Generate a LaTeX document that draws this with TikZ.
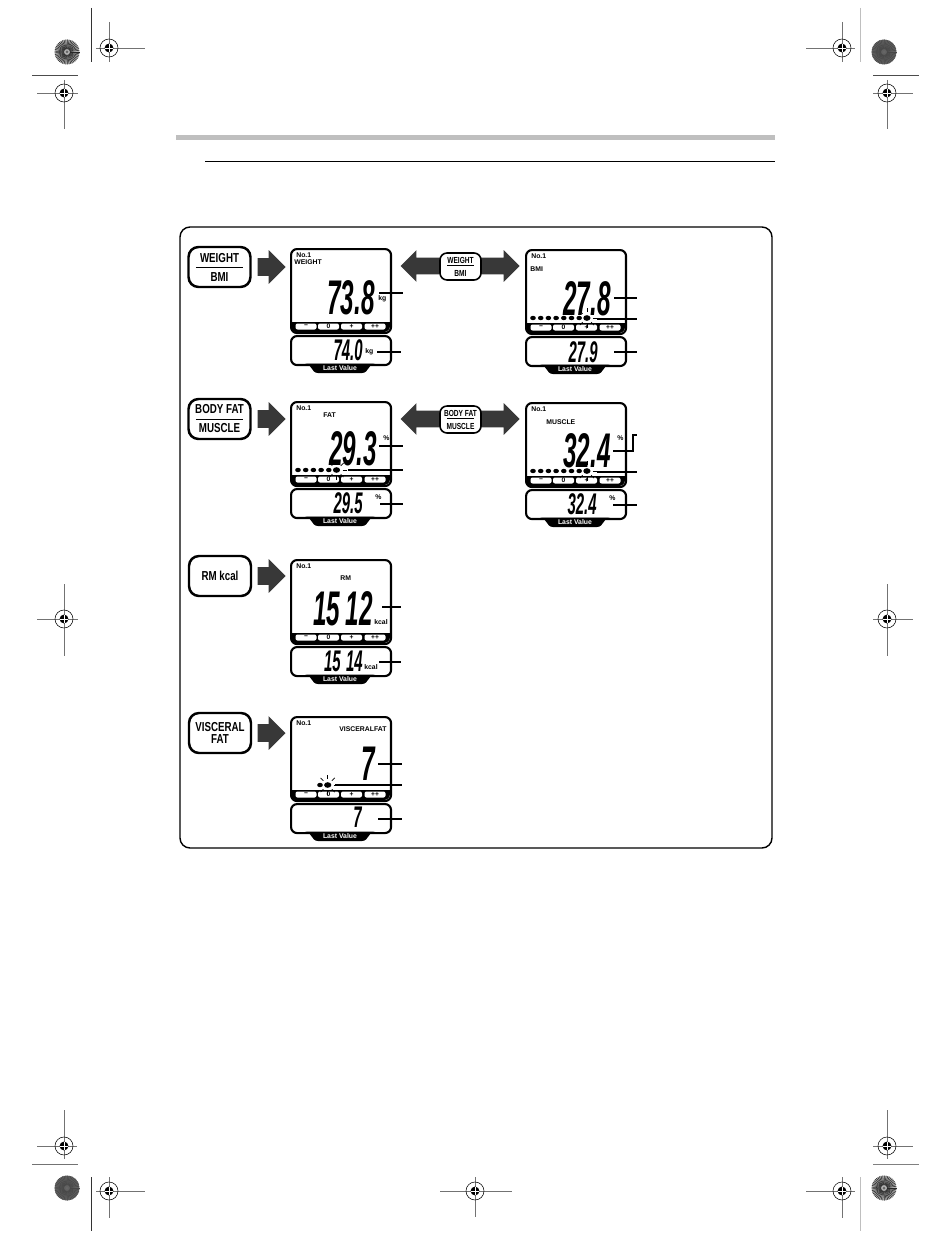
\documentclass[tikz,border=0pt]{standalone}
\usepackage{fontspec}
\setmainfont{Liberation Sans}
\newfontfamily\segfont[FakeStretch=0.5]{Liberation Sans}
\newfontfamily\capfont[FakeStretch=0.75]{Liberation Sans}
\usetikzlibrary{positioning,shapes.arrows}

\begin{document}
\begin{tikzpicture}[x=0.02cm,y=-0.02cm,
  panel/.style={draw,line width=1.2pt,rounded corners=0.12cm,minimum width=2cm,minimum height=1.68cm,inner sep=0pt,anchor=north west},
  lastbox/.style={draw,line width=1.2pt,rounded corners=0.12cm,minimum width=2cm,minimum height=0.58cm,inner sep=0pt,anchor=north west},
  keycap/.style={fill=white,rounded corners=0.04cm,minimum width=0.42cm,minimum height=0.12cm,inner sep=0pt,font=\bfseries\fontsize{3.8}{3.8}\selectfont},
  tag/.style={inner sep=0pt,anchor=west,font=\bfseries\fontsize{3.9}{4}\selectfont},
  bigdigits/.style={inner sep=0pt,anchor=base east,font=\segfont\bfseries\itshape\fontsize{27.7}{28}\selectfont},
  lastdigits/.style={inner sep=0pt,anchor=base east,font=\segfont\bfseries\itshape\fontsize{17}{17}\selectfont},
  bigbutton/.style={draw,line width=1.4pt,rounded corners=0.2cm,minimum width=1.24cm,minimum height=0.8cm,inner sep=0pt,align=center,font=\capfont\bfseries\fontsize{7.4}{5.4}\selectfont},
  smallbutton/.style={draw,fill=white,line width=0.9pt,rounded corners=0.14cm,minimum width=0.82cm,minimum height=0.54cm,inner sep=0pt,align=center,font=\capfont\bfseries\fontsize{5}{3.7}\selectfont},
  blockarrow/.style={single arrow,fill=black!78,inner xsep=0pt,inner ysep=0.17cm,minimum height=0.56cm,minimum width=0.66cm,single arrow head extend=0.16cm,single arrow head indent=0pt,anchor=tip},
  widearrow/.style={single arrow,fill=black!78,inner xsep=0pt,inner ysep=0.16cm,minimum height=0.8cm,minimum width=0.62cm,single arrow head extend=0.15cm,single arrow head indent=0pt,anchor=tip},
  leader/.style={line width=0.6pt}]
  \useasboundingbox (0,0) rectangle (950,1240);
  % Trim lines
  \foreach \ax/\ay/\bx/\by/\tc in {91/8/91/62/black!80,32/75/78/75/black!70,91/1177/91/1231/black!80,32/1164/78/1164/black!55,860/8/860/62/black!25,873/75/919/75/black!70,860/1177/860/1231/black!25,873/1164/919/1164/black!50}
    \draw[\tc,line width=0.5pt] (\ax,\ay) -- (\bx,\by);
  % Registration targets
  \foreach \cx/\cy/\xa/\xb/\ya/\yb in {109/48/96/145/22/62,64/93/37/78/80/129,842/48/806/855/22/62,887/93/873/913/80/129,64/619/37/78/584/656,887/619/873/913/584/656,64/1146/37/77/1110/1159,109/1191/96/145/1177/1218,475/1191/440/512/1177/1217,842/1191/806/855/1177/1218,887/1146/873/913/1110/1159}{
    \draw[black!55,line width=0.45pt] (\xa,\cy) -- (\xb,\cy) (\cx,\ya) -- (\cx,\yb);
    \draw[line width=0.3pt] (\cx,\cy) circle (9);
    \fill (\cx,\cy) circle (4.4);
    \draw[white,line width=0.15pt] (\cx-4.4,\cy) -- (\cx+4.4,\cy) (\cx,\cy-4.4) -- (\cx,\cy+4.4);
  }
  % Colour wheels
  \foreach \wx/\wy/\wf/\wl in {67/52/black!30/black!85,884/1188/black!30/black!85,67/1188/black!62/black!72,884/52/black!62/black!72}{
    \fill[\wf] (\wx,\wy) circle (12.5);
    \foreach \a in {0,8,...,352} \draw[\wl,line width=0.3pt] (\wx,\wy) ++(\a:3) -- ++(\a:9.5);
    \fill[black!60] (\wx,\wy) circle (1.5);
  }
  % Header rules
  \fill[black!25] (176,135) rectangle (775,140);
  \draw[line width=0.5pt] (205,161) -- (775,161);
  % Outer frame
  \draw[line width=0.8pt,rounded corners=0.2cm] (180,227) rectangle (772,848);
  % Display panels
  \foreach \n/\x/\y in {w/290/248,b/525/249,f/290/401,m/525/402,r/290/559,v/290/716}{
    \node[panel] (\n main) at (\x,\y) {};
    \fill (\x,\y+74) -- (\x+100,\y+74) [rounded corners=0.12cm] -- (\x+100,\y+84) -- (\x,\y+84) [sharp corners] -- cycle;
    \foreach \k/\kx/\lab in {1/16/−,2/38.5/0,3/61.5/+,4/85/++}
      \node[keycap] (\n key\k) at (\x+\kx,\y+78.5) {\lab};
    \node[tag] (\n no) at (\x+6,\y+7) {No.1};
    \node[lastbox] (\n last) at (\x,\y+87) {};
    \fill (\x+15,\y+115.5) .. controls (\x+22,\y+115.5) and (\x+21,\y+125) .. (\x+28,\y+125) -- (\x+72,\y+125) .. controls (\x+79,\y+125) and (\x+78,\y+115.5) .. (\x+85,\y+115.5) -- cycle;
    \node[tag,anchor=center,white] (\n lastlabel) at (\x+50,\y+120.5) {Last Value};
  }
  % Readings
  \foreach \n/\bx/\by/\val in {w/375/314/73.8,b/611/315/27.8,f/377/465/29.3,m/611/467/32.4,r/373/625/15\kern3pt 12,v/375/780/7}
    \node[bigdigits] (\n value) at (\bx,\by) {\val};
  \foreach \n/\bx/\by/\val in {w/363/360/74.0,b/598/362/27.9,f/363/513/29.5,m/597/514/32.4,r/363/671/15\kern3pt 14,v/362/827/7}
    \node[lastdigits] (\n prev) at (\bx,\by) {\val};
  % Small labels
  \foreach \px/\py/\txt [count=\i] in {294/262/WEIGHT,378/299/kg,365/352/kg,530/269/BMI,323/415/FAT,383/438/\%,375/497/\%,546/422/MUSCLE,617/438/\%,609/498/\%,340/578/RM,374/622/kcal,364/667/kcal,339/729/VISCERALFAT}
    \node[tag] (tag\i) at (\px,\py) {\txt};
  % Level dots
  \foreach \dx/\dy/\cnt in {533/318/8,298/470/6,533/471/8,320/785/2}{
    \foreach \j in {1,...,\cnt} \fill (\dx+7.7*\j-7.7,\dy) ellipse (2.8 and 2.2);
    \fill (\dx+7.7*\cnt-7.7,\dy) ellipse (3.6 and 2.8);
    \foreach \a in {0,45,...,315} \draw[line width=0.4pt] (\dx+7.7*\cnt-7.7,\dy) ++(\a:6) -- ++(\a:4);
  }
  % Buttons on the left
  \node[bigbutton] (weightkey) at (219.5,267) {WEIGHT\\\rule[2.2pt]{0.95cm}{0.6pt}\\BMI};
  \node[bigbutton] (fatkey) at (219.5,419) {BODY FAT\\\rule[2.2pt]{0.95cm}{0.6pt}\\MUSCLE};
  \node[bigbutton] (rmkey) at (220,576) {RM kcal};
  \node[bigbutton] (viscerakey) at (220,733) {VISCERAL\\[1.4pt]FAT};
  \foreach \n/\ay in {w/267,f/419,r/576,v/733}
    \node[blockarrow] (\n arrow) at (286,\ay) {};
  % Arrows either side of the toggle buttons
  \foreach \n/\ay in {w/266,f/419}{
    \node[widearrow,shape border rotate=180] (\n back) at (400,\ay) {};
    \node[widearrow] (\n next) at (520,\ay) {};
  }
  % Toggle buttons between the panels
  \node[smallbutton] (weighttoggle) at (460.5,266.5) {WEIGHT\\\rule[1.9pt]{0.54cm}{0.5pt}\\BMI};
  \node[smallbutton] (fattoggle) at (460.5,419.5) {BODY FAT\\\rule[1.9pt]{0.54cm}{0.5pt}\\MUSCLE};
  % Leader lines
  \foreach \l/\xa/\xb/\yy in {wa/379/403/293,wb/377/401/352,ba/614/637/298,bb/597/637/319,bc/614/637/352,fa/379/403/446,fb/348/403/470,fc/380/403/504,mb/597/637/472,mc/613/637/505,ra/382/401/607,rb/379/401/662,va/378/402/764,vb/335/402/785,vc/378/402/819}{
    \coordinate (\l s) at (\xa,\yy);
    \coordinate (\l e) at (\xb,\yy);
    \draw[leader] (\l s) -- (\l e);
  }
  \coordinate (mas) at (613,451);
  \coordinate (mae) at (637,435);
  \draw[leader] (mas) -- (633,451) -- (633,435) -- (mae);
\end{tikzpicture}
\end{document}
